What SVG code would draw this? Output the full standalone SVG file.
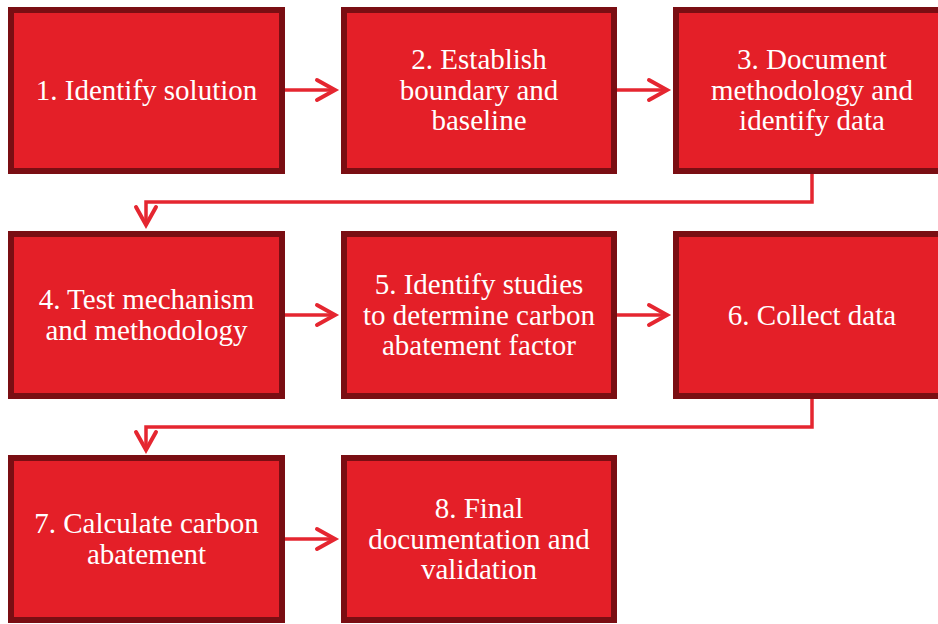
<svg xmlns="http://www.w3.org/2000/svg" width="938" height="624" viewBox="0 0 938 624">
<style>
.box{fill:#E41F28;stroke:#7A0E13;stroke-width:6}
.t{font-family:"Liberation Serif","Times New Roman",serif;font-size:29px;fill:#ffffff;text-anchor:middle}
.c{fill:none;stroke:#E52630;stroke-width:3.5}
.h{fill:none;stroke:#E52630;stroke-width:4;stroke-linecap:round;stroke-linejoin:miter}
</style>
<rect width="938" height="624" fill="#ffffff"/>
<g id="connectors">
<line class="c" x1="285" y1="90" x2="334" y2="90"/><polyline class="h" points="317,80 335,90 317,100"/>
<line class="c" x1="617" y1="90" x2="666" y2="90"/><polyline class="h" points="649,80 667,90 649,100"/>
<polyline class="c" points="812,174 812,202 146,202 146,224"/><polyline class="h" points="136,207 146,225 156,207"/>
<line class="c" x1="285" y1="315" x2="334" y2="315"/><polyline class="h" points="317,305 335,315 317,325"/>
<line class="c" x1="617" y1="315" x2="666" y2="315"/><polyline class="h" points="649,305 667,315 649,325"/>
<polyline class="c" points="812,399 812,427 146,427 146,449"/><polyline class="h" points="136,432 146,450 156,432"/>
<line class="c" x1="285" y1="539" x2="334" y2="539"/><polyline class="h" points="317,529 335,539 317,549"/>
</g>
<g id="n1"><rect class="box" x="11" y="10" width="271" height="161"/><text class="t" x="146.5" y="100">1. Identify solution</text></g>
<g id="n2"><rect class="box" x="344" y="10" width="270" height="161"/><text class="t" x="479" y="69">2. Establish</text><text class="t" x="479" y="99.5">boundary and</text><text class="t" x="479" y="130">baseline</text></g>
<g id="n3"><rect class="box" x="676" y="10" width="271" height="161"/><text class="t" x="812" y="69">3. Document</text><text class="t" x="812" y="99.5">methodology and</text><text class="t" x="812" y="130">identify data</text></g>
<g id="n4"><rect class="box" x="11" y="234" width="271" height="162"/><text class="t" x="146.5" y="309">4. Test mechanism</text><text class="t" x="146.5" y="339.5">and methodology</text></g>
<g id="n5"><rect class="box" x="344" y="234" width="270" height="162"/><text class="t" x="479" y="294">5. Identify studies</text><text class="t" x="479" y="324.5">to determine carbon</text><text class="t" x="479" y="355">abatement factor</text></g>
<g id="n6"><rect class="box" x="676" y="234" width="271" height="162"/><text class="t" x="812" y="324.5">6. Collect data</text></g>
<g id="n7"><rect class="box" x="11" y="458" width="271" height="162"/><text class="t" x="146.5" y="533">7. Calculate carbon</text><text class="t" x="146.5" y="563.5">abatement</text></g>
<g id="n8"><rect class="box" x="344" y="458" width="270" height="162"/><text class="t" x="479" y="518">8. Final</text><text class="t" x="479" y="548.5">documentation and</text><text class="t" x="479" y="579">validation</text></g>
</svg>
